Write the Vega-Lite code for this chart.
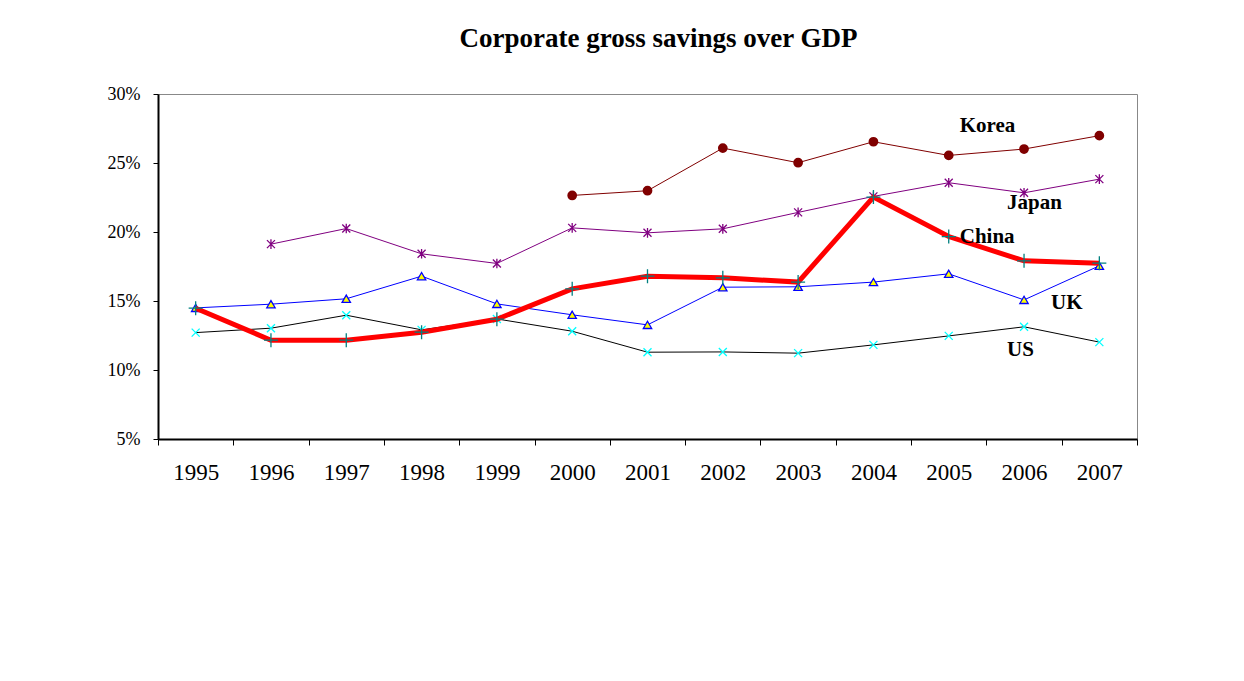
{
  "$schema": "https://vega.github.io/schema/vega-lite/v6.json",
  "autosize": "none",
  "width": 979,
  "height": 345,
  "padding": {"left": 158, "top": 94, "right": 107, "bottom": 242},
  "background": "white",
  "title": {
    "text": "Corporate gross savings over GDP",
    "font": "Liberation Serif",
    "fontSize": 27,
    "fontWeight": "bold",
    "color": "black",
    "anchor": "middle",
    "dx": 11,
    "offset": 5,
    "baseline": "bottom"
  },
  "config": {
    "view": {"stroke": "#888888", "strokeWidth": 1},
    "axis": {"labelFont": "Liberation Serif", "labelColor": "black", "domainColor": "black", "tickColor": "black", "grid": false}
  },
  "datasets": {
    "series": [
      {"country": "Korea", "year": "2000", "value": 0.2265},
      {"country": "Korea", "year": "2001", "value": 0.2299},
      {"country": "Korea", "year": "2002", "value": 0.2608},
      {"country": "Korea", "year": "2003", "value": 0.2502},
      {"country": "Korea", "year": "2004", "value": 0.2654},
      {"country": "Korea", "year": "2005", "value": 0.2555},
      {"country": "Korea", "year": "2006", "value": 0.2601},
      {"country": "Korea", "year": "2007", "value": 0.2698},
      {"country": "Japan", "year": "1996", "value": 0.1912},
      {"country": "Japan", "year": "1997", "value": 0.2025},
      {"country": "Japan", "year": "1998", "value": 0.1842},
      {"country": "Japan", "year": "1999", "value": 0.1772},
      {"country": "Japan", "year": "2000", "value": 0.2030},
      {"country": "Japan", "year": "2001", "value": 0.1994},
      {"country": "Japan", "year": "2002", "value": 0.2023},
      {"country": "Japan", "year": "2003", "value": 0.2142},
      {"country": "Japan", "year": "2004", "value": 0.2258},
      {"country": "Japan", "year": "2005", "value": 0.2357},
      {"country": "Japan", "year": "2006", "value": 0.2284},
      {"country": "Japan", "year": "2007", "value": 0.2383},
      {"country": "China", "year": "1995", "value": 0.1448},
      {"country": "China", "year": "1996", "value": 0.1216},
      {"country": "China", "year": "1997", "value": 0.1216},
      {"country": "China", "year": "1998", "value": 0.1274},
      {"country": "China", "year": "1999", "value": 0.1368},
      {"country": "China", "year": "2000", "value": 0.1588},
      {"country": "China", "year": "2001", "value": 0.1680},
      {"country": "China", "year": "2002", "value": 0.1668},
      {"country": "China", "year": "2003", "value": 0.1637},
      {"country": "China", "year": "2004", "value": 0.2253},
      {"country": "China", "year": "2005", "value": 0.1967},
      {"country": "China", "year": "2006", "value": 0.1791},
      {"country": "China", "year": "2007", "value": 0.1774},
      {"country": "UK", "year": "1995", "value": 0.1450},
      {"country": "UK", "year": "1996", "value": 0.1477},
      {"country": "UK", "year": "1997", "value": 0.1516},
      {"country": "UK", "year": "1998", "value": 0.1680},
      {"country": "UK", "year": "1999", "value": 0.1479},
      {"country": "UK", "year": "2000", "value": 0.1400},
      {"country": "UK", "year": "2001", "value": 0.1327},
      {"country": "UK", "year": "2002", "value": 0.1600},
      {"country": "UK", "year": "2003", "value": 0.1603},
      {"country": "UK", "year": "2004", "value": 0.1637},
      {"country": "UK", "year": "2005", "value": 0.1697},
      {"country": "UK", "year": "2006", "value": 0.1508},
      {"country": "UK", "year": "2007", "value": 0.1755},
      {"country": "US", "year": "1995", "value": 0.1271},
      {"country": "US", "year": "1996", "value": 0.1303},
      {"country": "US", "year": "1997", "value": 0.1397},
      {"country": "US", "year": "1998", "value": 0.1291},
      {"country": "US", "year": "1999", "value": 0.1370},
      {"country": "US", "year": "2000", "value": 0.1281},
      {"country": "US", "year": "2001", "value": 0.1129},
      {"country": "US", "year": "2002", "value": 0.1131},
      {"country": "US", "year": "2003", "value": 0.1122},
      {"country": "US", "year": "2004", "value": 0.1182},
      {"country": "US", "year": "2005", "value": 0.1247},
      {"country": "US", "year": "2006", "value": 0.1313},
      {"country": "US", "year": "2007", "value": 0.1202}
    ],
    "labels": [
      {"country": "Korea", "year": "2005", "value": 0.2765},
      {"country": "China", "year": "2005", "value": 0.1965},
      {"country": "Japan", "year": "2006", "value": 0.2212},
      {"country": "US", "year": "2006", "value": 0.1146},
      {"country": "UK", "year": "2006", "value": 0.1487}
    ]
  },
  "data": {"name": "series"},
  "encoding": {
    "x": {
      "field": "year",
      "type": "ordinal",
      "scale": {"type": "band", "paddingInner": 0, "paddingOuter": 0},
      "axis": {
        "title": null,
        "labelAngle": 0,
        "labelFontSize": 23,
        "labelPadding": 16,
        "tickBand": "extent",
        "tickSize": 6,
        "tickWidth": 1,
        "domainWidth": 2
      }
    },
    "y": {
      "field": "value",
      "type": "quantitative",
      "scale": {"domain": [0.05, 0.30], "nice": false, "zero": false},
      "axis": {
        "title": null,
        "values": [0.05, 0.10, 0.15, 0.20, 0.25, 0.30],
        "format": ".0%",
        "labelFontSize": 18,
        "labelPadding": 13,
        "tickSize": 5,
        "tickWidth": 1,
        "domainWidth": 2
      }
    }
  },
  "layer": [
    {
      "transform": [{"filter": "datum.country === 'US'"}],
      "mark": {"type": "line", "color": "#000000", "strokeWidth": 1}
    },
    {
      "transform": [{"filter": "datum.country === 'UK'"}],
      "mark": {"type": "line", "color": "#0000FF", "strokeWidth": 1}
    },
    {
      "transform": [{"filter": "datum.country === 'Japan'"}],
      "mark": {"type": "line", "color": "#800080", "strokeWidth": 1}
    },
    {
      "transform": [{"filter": "datum.country === 'Korea'"}],
      "mark": {"type": "line", "color": "#800000", "strokeWidth": 1}
    },
    {
      "transform": [{"filter": "datum.country === 'US'"}],
      "mark": {"type": "point", "shape": "M-1,-1L1,1M-1,1L1,-1", "size": 64, "filled": false, "stroke": "#00FFFF", "strokeWidth": 1.3, "opacity": 1}
    },
    {
      "transform": [{"filter": "datum.country === 'UK'"}],
      "mark": {"type": "point", "shape": "triangle-up", "size": 70, "filled": true, "fill": "#FFFF00", "stroke": "#0000FF", "strokeWidth": 1.3, "opacity": 1}
    },
    {
      "transform": [{"filter": "datum.country === 'Japan'"}],
      "mark": {"type": "point", "shape": "M-1,-1L1,1M-1,1L1,-1M0,-1.2L0,1.2", "size": 64, "filled": false, "stroke": "#800080", "strokeWidth": 1.3, "opacity": 1}
    },
    {
      "transform": [{"filter": "datum.country === 'Korea'"}],
      "mark": {"type": "point", "shape": "circle", "size": 60, "filled": true, "fill": "#800000", "stroke": "#800000", "opacity": 1}
    },
    {
      "transform": [{"filter": "datum.country === 'China'"}],
      "mark": {"type": "line", "color": "#FF0000", "strokeWidth": 5}
    },
    {
      "transform": [{"filter": "datum.country === 'China'"}],
      "mark": {"type": "point", "shape": "M-1,0L1,0M0,-1L0,1", "size": 196, "filled": false, "stroke": "#008080", "strokeWidth": 1.3, "opacity": 1}
    },
    {
      "data": {"name": "labels"},
      "transform": [{"filter": "datum.country === 'Korea' || datum.country === 'China'"}],
      "mark": {"type": "text", "align": "left", "baseline": "middle", "dx": 11, "font": "Liberation Serif", "fontSize": 21, "fontWeight": "bold", "color": "black"},
      "encoding": {"text": {"field": "country"}}
    },
    {
      "data": {"name": "labels"},
      "transform": [{"filter": "datum.country === 'Japan' || datum.country === 'US'"}],
      "mark": {"type": "text", "align": "left", "baseline": "middle", "dx": -17, "font": "Liberation Serif", "fontSize": 21, "fontWeight": "bold", "color": "black"},
      "encoding": {"text": {"field": "country"}}
    },
    {
      "data": {"name": "labels"},
      "transform": [{"filter": "datum.country === 'UK'"}],
      "mark": {"type": "text", "align": "left", "baseline": "middle", "dx": 27, "font": "Liberation Serif", "fontSize": 21, "fontWeight": "bold", "color": "black"},
      "encoding": {"text": {"field": "country"}}
    }
  ]
}
